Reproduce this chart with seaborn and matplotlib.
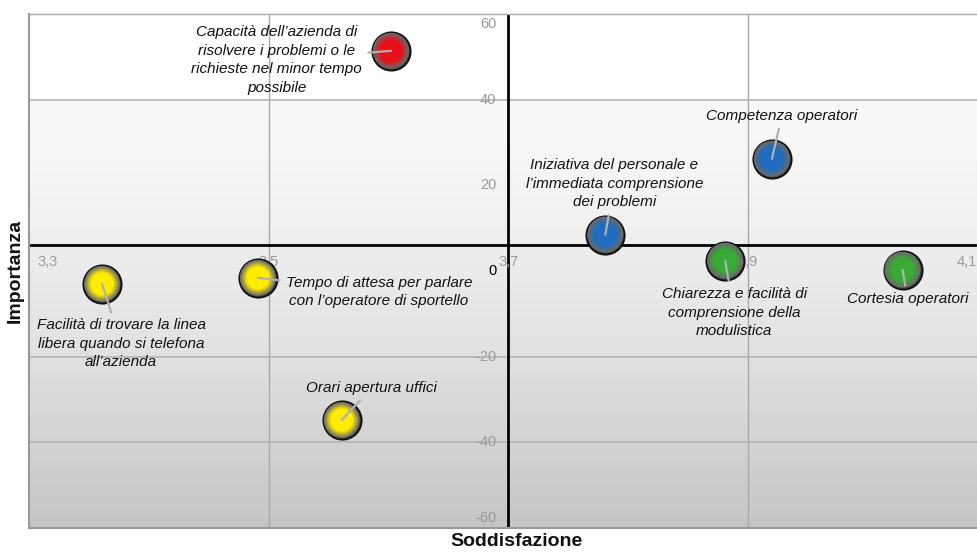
import numpy as np
import matplotlib
matplotlib.use("Agg")
import matplotlib.pyplot as plt
import matplotlib.colors as mcolors
import seaborn as sns
import pandas as pd

# ========= DATA ==========
labels = [
    "Capacità dell\u2019azienda di\nrisolvere i problemi o le\nrichieste nel minor tempo\npossibile",
    "Competenza operatori",
    "Iniziativa del personale e\nl\u2019immediata comprensione\ndei problemi",
    "Chiarezza e facilità di\ncomprensione della\nmodulistica",
    "Cortesia operatori",
    "Facilità di trovare la linea\nlibera quando si telefona\nall\u2019azienda",
    "Tempo di attesa per parlare\ncon l\u2019operatore di sportello",
    "Orari apertura uffici",
]
soddisfazione = [3.602, 3.920, 3.781, 3.881, 4.029, 3.361, 3.491, 3.561]
importanza = [51.4, 26.2, 8.5, 2.4, 0.3, -3.0, -1.6, -34.8]
gruppo = ["rosso", "blu", "blu", "verde", "verde", "giallo", "giallo", "giallo"]

x_ticks = [3.3, 3.5, 3.7, 3.9, 4.1]
y_ticks = [60, 40, 20, 0, -20, -40, -60]
x_grid = [3.5, 3.9]
y_grid = [40, -20, -40]
x_cross = 3.7

# ========= STYLE ==========
palette = {"rosso": "#e8101a", "blu": "#1f6cc0", "verde": "#38ab34", "giallo": "#ffec00"}
# label offsets in pixels (dx, dy) from point centre
label_offsets = [(-114, -9), (10, 43), (9, 51), (9, -52), (5, -29), (19, -60), (121, -14), (30, 32)]

XLIM = (3.3, 4.092)
YLIM = (-60, 60)

sns.set_theme(style="white")
plt.rcParams["font.family"] = ["Liberation Sans", "DejaVu Sans"]

df = pd.DataFrame({"label": labels, "sodd": soddisfazione, "imp": importanza, "gruppo": gruppo})

fig = plt.figure(figsize=(9.78, 5.53), dpi=100)
ax = fig.add_axes([29 / 978, 25 / 553, 949 / 978, 514 / 553])
ax.set_xlim(*XLIM)
ax.set_ylim(*YLIM)

# background gradient
yy = np.linspace(YLIM[0], YLIM[1], 400)
v = np.where(yy >= 40, 1.0, 0.975 - 0.205 * np.clip((40 - yy) / 100, 0, 1) ** 1.5)
grad = np.repeat(v[:, None, None], 3, axis=2)
ax.imshow(grad, extent=[XLIM[0], XLIM[1], YLIM[0], YLIM[1]], origin="lower",
          aspect="auto", zorder=0, interpolation="bilinear")

# gridlines
for gx in x_grid:
    ax.axvline(gx, color="#a8a8a8", lw=1, zorder=1)
for gy in y_grid:
    ax.axhline(gy, color="#b4b4b4", lw=1.2, zorder=1)

# crossing axes
y_mean = np.mean(importanza)
ax.axvline(x_cross, color="black", lw=2, zorder=2)
ax.axhline(y_mean, color="black", lw=2, zorder=2)

# tick labels along crossing axes
for i, t in enumerate(x_ticks):
    ha = "left" if i == 0 else ("right" if i == len(x_ticks) - 1 else "center")
    dx = 8 if i == 0 else (-11 if i == len(x_ticks) - 1 else 0)
    ax.annotate(f"{t:.1f}".replace(".", ","), xy=(t, y_mean), xytext=(dx, -17),
                textcoords="offset pixels", ha=ha, va="center", fontsize=10.5,
                color="#9a9a9a", annotation_clip=False, zorder=3)
for t in y_ticks:
    va = "top" if t == YLIM[1] else ("bottom" if t == YLIM[0] else "center")
    dy = -3 if t == YLIM[1] else (3 if t == YLIM[0] else 0)
    ax.annotate(str(t), xy=(x_cross, t), xytext=(-12, dy), textcoords="offset pixels",
                ha="right", va=va, fontsize=10.5,
                color="black" if t == 0 else "#9a9a9a", zorder=3)

# bubbles: dark outer ring + layered radial gradient
sns.scatterplot(data=df, x="sodd", y="imp", s=760, color="#3c3c3c", edgecolor="#111111",
                linewidth=1.3, legend=False, ax=ax, zorder=4)
n_layers = 14
for k in range(n_layers):
    t = k / (n_layers - 1)
    frac = 0.94 - 0.36 * t
    cols = [mcolors.to_hex(np.array(mcolors.to_rgb("#6a6a6a")) * (1 - t)
                           + np.array(mcolors.to_rgb(palette[g])) * t) for g in gruppo]
    ax.scatter(df["sodd"], df["imp"], s=760 * frac ** 2, c=cols, linewidths=0, zorder=5 + k * 0.01)

# labels with leader lines
for lbl, x, y, off in zip(labels, soddisfazione, importanza, label_offsets):
    ax.annotate(lbl, xy=(x, y), xytext=off, textcoords="offset pixels",
                ha="center", va="center", multialignment="center",
                fontsize=11, style="italic", color="#111111",
                linespacing=1.42, zorder=7,
                arrowprops=dict(arrowstyle="-", color="#b0b0b0", lw=1.6,
                                shrinkA=2, shrinkB=0))

ax.set_xticks([])
ax.set_yticks([])
ax.set_xlabel("")
ax.set_ylabel("")
for side in ["left", "bottom"]:
    ax.spines[side].set_color("#999999")
    ax.spines[side].set_linewidth(1.5)
ax.spines["top"].set_color("#aaaaaa")
ax.spines["top"].set_linewidth(1)
ax.spines["right"].set_visible(False)

fig.text(15 / 978, 1 - 271 / 553, "Importanza", rotation=90, ha="center", va="center",
         fontsize=14, fontweight="bold", color="#111111")
fig.text(517 / 978, 1 - 542 / 553, "Soddisfazione", ha="center", va="center",
         fontsize=14, fontweight="bold", color="#111111")

fig.savefig("out.png", dpi=100)
